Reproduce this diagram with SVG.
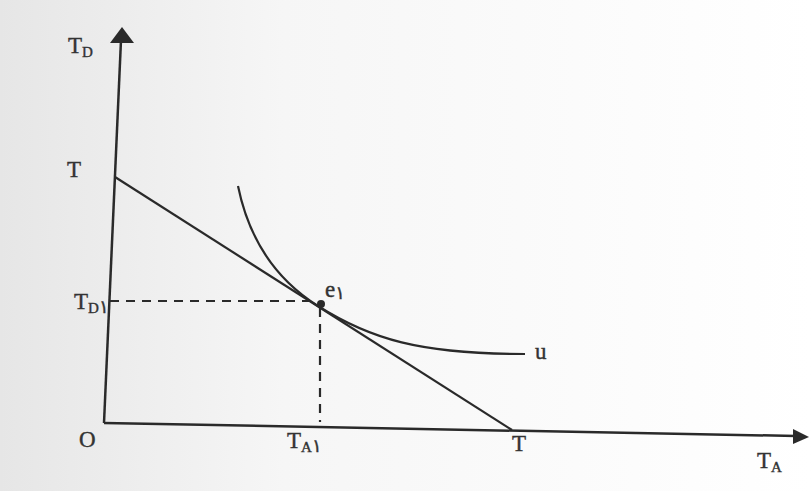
<svg xmlns="http://www.w3.org/2000/svg" width="811" height="491" viewBox="0 0 811 491">
<defs>
<linearGradient id="bg" x1="0" y1="0" x2="1" y2="0">
<stop offset="0" stop-color="#e6e6e6"/>
<stop offset="0.35" stop-color="#f6f6f6"/>
<stop offset="1" stop-color="#ffffff"/>
</linearGradient>
<style>
.ax{stroke:#2a2a2a;stroke-width:2.5;fill:none}
.ln{stroke:#2a2a2a;stroke-width:2.2;fill:none}
.da{stroke:#2a2a2a;stroke-width:2.2;fill:none;stroke-dasharray:9 7}
.t{font-family:"Liberation Serif","DejaVu Serif",serif;font-size:23px;fill:#333;stroke:#333;stroke-width:0.4}
.s{font-family:"Liberation Serif","DejaVu Serif",serif;font-size:15px}
.p{font-family:"DejaVu Sans",sans-serif;font-size:18px}
</style>
</defs>
<rect width="811" height="491" fill="url(#bg)"/>
<g id="connectors">
<line class="ax" x1="104" y1="423" x2="121" y2="40"/>
<polygon points="122,27 110,43 134,43" fill="#2a2a2a"/>
<line class="ax" x1="104" y1="423" x2="796" y2="436"/>
<polygon points="809,437 793,429 793,444" fill="#2a2a2a"/>
<line class="ln" x1="115" y1="177" x2="512" y2="430"/>
<path class="ln" d="M238,186 C250,245 280,282 318,306 C370,339 420,354 525,354"/>
<line class="da" x1="110" y1="301" x2="318" y2="301"/>
<line class="da" x1="320" y1="308" x2="320" y2="422"/>
<circle cx="321" cy="304" r="4" fill="#2a2a2a"/>
</g>
<g id="labels">
<text class="t" x="68" y="53">T<tspan class="s" dy="4">D</tspan></text>
<text class="t" x="67" y="177">T</text>
<text class="t" x="74" y="309">T<tspan class="s" dy="4">D</tspan><tspan class="p" dy="0">۱</tspan></text>
<text class="t" x="325" y="297">e<tspan class="p" dy="2">۱</tspan></text>
<text class="t" x="535" y="359">u</text>
<text class="t" x="79" y="447">O</text>
<text class="t" x="287" y="448">T<tspan class="s" dy="4">A</tspan><tspan class="p" dy="0">۱</tspan></text>
<text class="t" x="512" y="451">T</text>
<text class="t" x="757" y="468">T<tspan class="s" dy="4">A</tspan></text>
</g>
</svg>
